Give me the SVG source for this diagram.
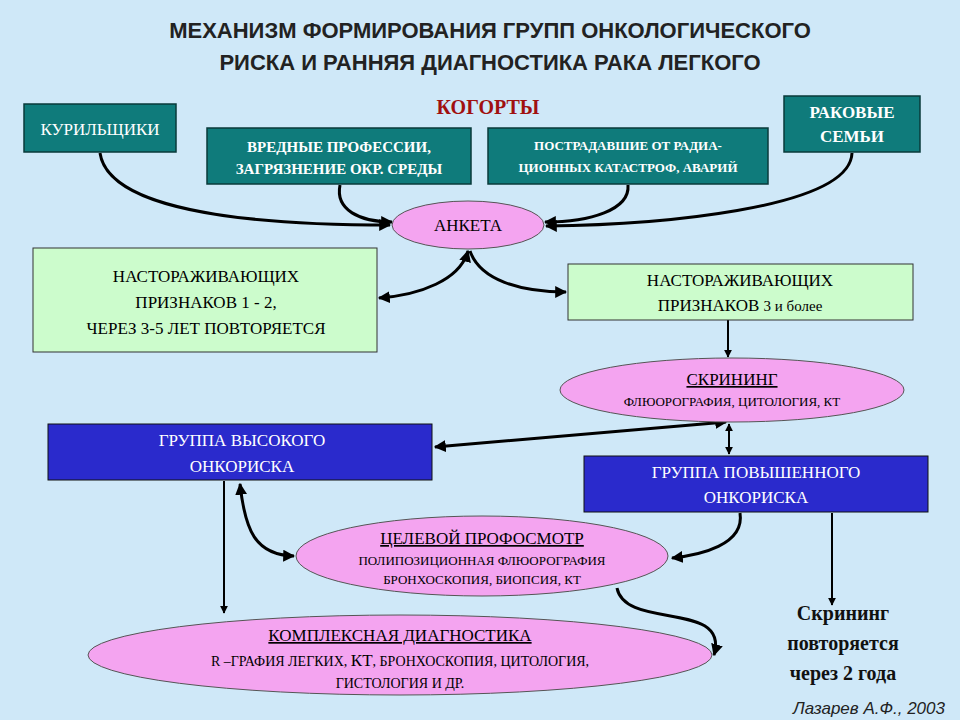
<svg xmlns="http://www.w3.org/2000/svg" width="960" height="720" viewBox="0 0 960 720">
<defs>
<style>
text{font-family:'Liberation Serif','DejaVu Serif',serif}
.t{text-anchor:middle}
.teal{fill:#0f7b7b;stroke:#0a3a3a;stroke-width:1.5}
.green{fill:#ccfccc;stroke:#333;stroke-width:1}
.blue{fill:#2a2acc;stroke:#111;stroke-width:1}
.pink{fill:#f4a4f0;stroke:#555;stroke-width:1}
.w{fill:#fff;font-weight:bold}
.c path,.c line{fill:none;stroke:#000;stroke-width:3}
.c .thin{stroke-width:2}
</style>
<marker id="a" viewBox="0 0 10 10" refX="9" refY="5" markerWidth="4" markerHeight="4" orient="auto-start-reverse"><path d="M0,0L10,5L0,10z" fill="#000"/></marker>
</defs>
<rect width="960" height="720" fill="#cfe8f8"/>
<g id="title" font-weight="bold" font-size="22" fill="#222" text-anchor="middle">
<text x="490" y="38" style="font-family:'Liberation Sans',Arial,sans-serif">МЕХАНИЗМ ФОРМИРОВАНИЯ ГРУПП ОНКОЛОГИЧЕСКОГО</text>
<text x="490" y="70" style="font-family:'Liberation Sans',Arial,sans-serif">РИСКА И РАННЯЯ ДИАГНОСТИКА РАКА ЛЕГКОГО</text>
<text x="488" y="114" font-size="20" fill="#a01010">КОГОРТЫ</text>
</g>
<g class="c">
<path d="M100,153 C110,220 300,225 390,225" marker-end="url(#a)"/>
<path d="M340,185 C335,210 360,222 392,222" marker-end="url(#a)"/>
<path d="M628,185 C630,210 590,222 545,222" marker-end="url(#a)"/>
<path d="M852,153 C850,210 650,225 546,226" marker-end="url(#a)"/>
<path d="M468,251 C460,280 420,295 379,298" marker-start="url(#a)" marker-end="url(#a)"/>
<path d="M470,251 C480,280 520,292 566,292" marker-end="url(#a)"/>
<line class="thin" x1="728" y1="320" x2="728" y2="357" marker-end="url(#a)"/>
<line x1="726" y1="422" x2="435" y2="447" marker-start="url(#a)" marker-end="url(#a)"/>
<line class="thin" x1="729" y1="424" x2="729" y2="454" marker-start="url(#a)" marker-end="url(#a)"/>
<line class="thin" x1="224" y1="481" x2="224" y2="613" marker-end="url(#a)"/>
<path d="M240,484 C245,530 255,555 294,556" marker-start="url(#a)" marker-end="url(#a)"/>
<path d="M740,513 C745,545 700,555 672,558" marker-end="url(#a)"/>
<line class="thin" x1="832" y1="513" x2="832" y2="605" marker-end="url(#a)"/>
<path d="M617,588 C625,630 730,600 714,655" marker-end="url(#a)"/>
</g>
<g id="smokers"><rect class="teal" x="24" y="104" width="152" height="48"/><text class="t" x="100" y="135" font-size="17" fill="#fff">КУРИЛЬЩИКИ</text></g>
<g id="prof"><rect class="teal" x="207" y="128" width="264" height="56"/><text class="t w" x="339" y="152" font-size="15">ВРЕДНЫЕ ПРОФЕССИИ,</text><text class="t w" x="339" y="174" font-size="15">ЗАГРЯЗНЕНИЕ ОКР. СРЕДЫ</text></g>
<g id="rad"><rect class="teal" x="488" y="128" width="280" height="56"/><text class="t w" x="628" y="150" font-size="13">ПОСТРАДАВШИЕ ОТ РАДИА-</text><text class="t w" x="628" y="172" font-size="13">ЦИОННЫХ КАТАСТРОФ, АВАРИЙ</text></g>
<g id="fam"><rect class="teal" x="784" y="96" width="136" height="56"/><text class="t w" x="852" y="118" font-size="17">РАКОВЫЕ</text><text class="t w" x="852" y="142" font-size="17">СЕМЬИ</text></g>
<g id="anketa"><ellipse class="pink" cx="468" cy="225" rx="76" ry="24"/><text class="t" x="468" y="231" font-size="17">АНКЕТА</text></g>
<g id="signs12"><rect class="green" x="33" y="248" width="344" height="104"/><text class="t" font-size="17"><tspan x="206" y="282">НАСТОРАЖИВАЮЩИХ</tspan><tspan x="206" y="308">ПРИЗНАКОВ 1 - 2,</tspan><tspan x="206" y="334">ЧЕРЕЗ 3-5 ЛЕТ ПОВТОРЯЕТСЯ</tspan></text></g>
<g id="signs3"><rect class="green" x="568" y="264" width="345" height="56"/><text class="t" font-size="17"><tspan x="740" y="286">НАСТОРАЖИВАЮЩИХ</tspan><tspan x="740" y="311">ПРИЗНАКОВ  <tspan font-size="15">3 и более</tspan></tspan></text></g>
<g id="screen"><ellipse class="pink" cx="732" cy="390" rx="172" ry="32"/><text class="t" x="732" y="385" font-size="17" text-decoration="underline">СКРИНИНГ</text><text class="t" x="732" y="406" font-size="13">ФЛЮОРОГРАФИЯ, ЦИТОЛОГИЯ, КТ</text></g>
<g id="high"><rect class="blue" x="48" y="424" width="384" height="56"/><text class="t" font-size="17" fill="#fff"><tspan x="242" y="446">ГРУППА ВЫСОКОГО</tspan><tspan x="242" y="472">ОНКОРИСКА</tspan></text></g>
<g id="raised"><rect class="blue" x="584" y="456" width="344" height="56"/><text class="t" font-size="17" fill="#fff"><tspan x="756" y="478">ГРУППА ПОВЫШЕННОГО</tspan><tspan x="756" y="503">ОНКОРИСКА</tspan></text></g>
<g id="target"><ellipse class="pink" cx="482" cy="556" rx="186" ry="40"/><text class="t" x="482" y="544" font-size="17" text-decoration="underline">ЦЕЛЕВОЙ ПРОФОСМОТР</text><text class="t" x="482" y="565" font-size="13">ПОЛИПОЗИЦИОННАЯ ФЛЮОРОГРАФИЯ</text><text class="t" x="482" y="584" font-size="13">БРОНХОСКОПИЯ,  БИОПСИЯ, КТ</text></g>
<g id="complex"><ellipse class="pink" cx="400" cy="655" rx="312" ry="40"/><text class="t" x="400" y="641" font-size="17" text-decoration="underline">КОМПЛЕКСНАЯ  ДИАГНОСТИКА</text><text class="t" x="400" y="666" font-size="14">R –ГРАФИЯ  ЛЕГКИХ, <tspan font-size="17">КТ</tspan>, БРОНХОСКОПИЯ, ЦИТОЛОГИЯ,</text><text class="t" x="400" y="688" font-size="14">ГИСТОЛОГИЯ И  ДР.</text></g>
<g id="repeat" class="t" font-weight="bold" font-size="20" fill="#111"><text x="843" y="620">Скрининг</text><text x="843" y="650">повторяется</text><text x="843" y="680">через 2 года</text></g>
<text x="945" y="714" style="font-family:'Liberation Sans',Arial,sans-serif" font-style="italic" font-size="17" text-anchor="end" fill="#222">Лазарев А.Ф., 2003</text>
</svg>
